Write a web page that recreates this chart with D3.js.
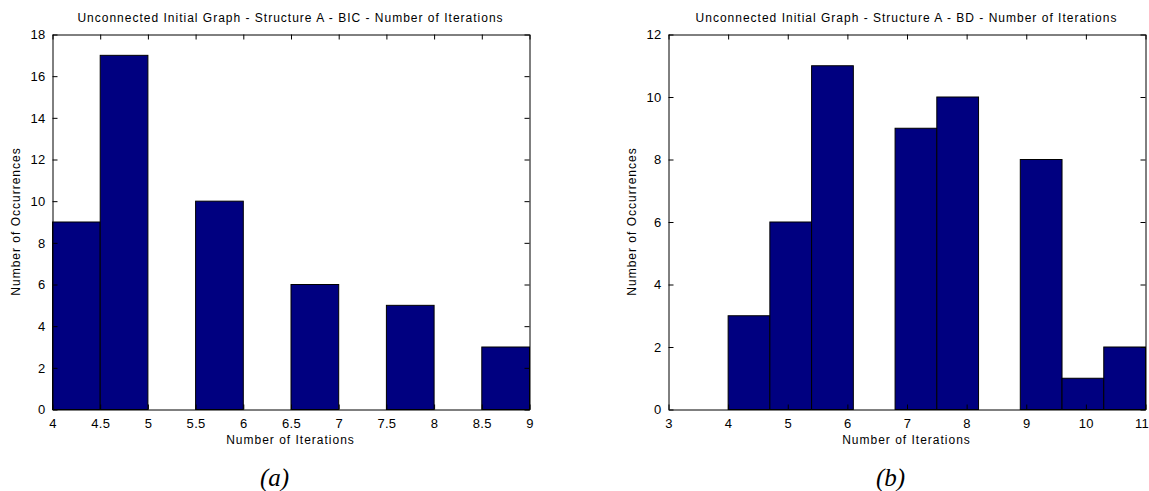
<!DOCTYPE html>
<html>
<head>
<meta charset="utf-8">
<script src="https://cdn.jsdelivr.net/npm/d3@7"></script>
<style>
  html, body { margin: 0; padding: 0; background: #fff; }
  svg { display: block; }
  .sans { font-family: "Liberation Sans", Arial, sans-serif; fill: #000; letter-spacing: 1px; }
  .ticklabel { font-family: "Liberation Sans", Arial, sans-serif; fill: #000; letter-spacing: 0.3px; }
  .caption { font-family: "Liberation Serif", "Times New Roman", serif; font-style: italic; fill: #000; }
</style>
</head>
<body>
<svg id="fig" width="1149" height="491"></svg>
<script>
// Histogram (a): BIC, bin edges every 0.5 from 4 to 9
const binEdgesA = [4, 4.5, 5, 5.5, 6, 6.5, 7, 7.5, 8, 8.5, 9];
const countsA   = [9, 17, 0, 10, 0, 6, 0, 5, 0, 3];
const xTicksA   = [4, 4.5, 5, 5.5, 6, 6.5, 7, 7.5, 8, 8.5, 9];
const yTicksA   = [0, 2, 4, 6, 8, 10, 12, 14, 16, 18];

// Histogram (b): BD, 10 bins of width 0.7 from 4 to 11
const binEdgesB = [4, 4.7, 5.4, 6.1, 6.8, 7.5, 8.2, 8.9, 9.6, 10.3, 11];
const countsB   = [3, 6, 11, 0, 9, 10, 0, 8, 1, 2];
const xTicksB   = [3, 4, 5, 6, 7, 8, 9, 10, 11];
const yTicksB   = [0, 2, 4, 6, 8, 10, 12];

const W = 1149;
const svg = d3.select("#fig");

function histogram(cfg) {
  const { left, right, top, bottom, edges, counts, xDomain, yDomain, xTicks, yTicks, title, caption } = cfg;
  const x = d3.scaleLinear().domain(xDomain).range([left, right]);
  const y = d3.scaleLinear().domain(yDomain).range([bottom, top]);
  const g = svg.append("g");

  const bins = counts.map((c, i) => ({ x0: edges[i], x1: edges[i + 1], c }))
                     .filter(b => b.c > 0);

  g.selectAll("rect.bar").data(bins).join("rect")
    .attr("class", "bar")
    .attr("x", d => x(d.x0) + 0.5)
    .attr("y", d => y(d.c) + 0.5)
    .attr("width", d => x(d.x1) - x(d.x0))
    .attr("height", d => y(0) - y(d.c))
    .attr("fill", "#000080")
    .attr("stroke", "#000")
    .attr("stroke-width", 1);

  const tickLen = 5;
  const fmt = d => String(d);

  // bottom & top axes (ticks inward)
  const xb = g.append("g").attr("transform", `translate(0.5,${bottom + 0.5})`)
    .call(d3.axisBottom(x).tickValues(xTicks).tickFormat(fmt).tickSizeInner(-tickLen).tickSizeOuter(0).tickPadding(9));
  const xt = g.append("g").attr("transform", `translate(0.5,${top + 0.5})`)
    .call(d3.axisTop(x).tickValues(xTicks).tickFormat("").tickSizeInner(-tickLen).tickSizeOuter(0));
  // left & right axes
  const yl = g.append("g").attr("transform", `translate(${left + 0.5},0.5)`)
    .call(d3.axisLeft(y).tickValues(yTicks).tickFormat(fmt).tickSizeInner(-tickLen).tickSizeOuter(0).tickPadding(7));
  const yr = g.append("g").attr("transform", `translate(${right + 0.5},0.5)`)
    .call(d3.axisRight(y).tickValues(yTicks).tickFormat("").tickSizeInner(-tickLen).tickSizeOuter(0));

  [xb, xt, yl, yr].forEach(a => {
    a.attr("font-family", null).attr("font-size", null);
    a.select(".domain").attr("stroke", "#000");
    a.selectAll(".tick line").attr("stroke", "#000");
    a.selectAll(".tick text").attr("class", "ticklabel").attr("font-size", 13).attr("fill", "#000");
  });

  // keep the last bottom label inside the figure
  xb.selectAll(".tick text").each(function (d) {
    const bb = this.getBBox();
    const overflow = x(d) + bb.x + bb.width - (W - 1);
    if (overflow > 0) d3.select(this).attr("dx", -overflow);
  });

  g.append("text").attr("class", "sans")
    .attr("x", (left + right) / 2).attr("y", top - 12)
    .attr("text-anchor", "middle").attr("font-size", 12)
    .text(title);

  g.append("text").attr("class", "sans")
    .attr("x", (left + right) / 2).attr("y", bottom + 35)
    .attr("text-anchor", "middle").attr("font-size", 12)
    .text("Number of Iterations");

  g.append("text").attr("class", "sans")
    .attr("transform", `translate(${left - 32},${(top + bottom) / 2}) rotate(-90)`)
    .attr("text-anchor", "middle").attr("font-size", 12)
    .text("Number of Occurrences");

  g.append("text").attr("class", "caption")
    .attr("x", (left + right) / 2 - 16).attr("y", bottom + 77)
    .attr("text-anchor", "middle")
    .attr("font-size", 25)
    .text(caption);
}

histogram({
  left: 52, right: 529, top: 34, bottom: 409,
  edges: binEdgesA, counts: countsA, xDomain: [4, 9], yDomain: [0, 18],
  xTicks: xTicksA, yTicks: yTicksA,
  title: "Unconnected Initial Graph - Structure A - BIC - Number of Iterations",
  caption: "(a)"
});

histogram({
  left: 668, right: 1145, top: 34, bottom: 409,
  edges: binEdgesB, counts: countsB, xDomain: [3, 11], yDomain: [0, 12],
  xTicks: xTicksB, yTicks: yTicksB,
  title: "Unconnected Initial Graph - Structure A - BD - Number of Iterations",
  caption: "(b)"
});
</script>
</body>
</html>
